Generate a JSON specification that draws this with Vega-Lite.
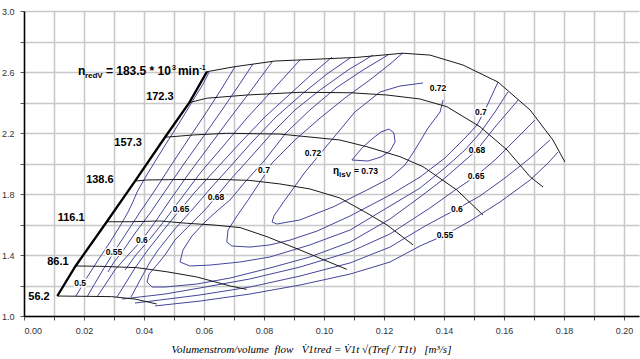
{
 "$schema": "https://vega.github.io/schema/vega-lite/v6.json",
 "width": 615, "height": 305,
 "autosize": {"type": "none"},
 "padding": {"left": 24, "top": 11, "right": 1, "bottom": 43},
 "background": "white",
 "config": {"view": {"stroke": null}},
 "datasets": {
  "lines": [
   {"id":"surge","k":"surge","o":0,"x":0.0111,"y":1.131},{"id":"surge","k":"surge","o":1,"x":0.0172,"y":1.328},{"id":"surge","k":"surge","o":2,"x":0.0276,"y":1.618},{"id":"surge","k":"surge","o":3,"x":0.037,"y":1.885},{"id":"surge","k":"surge","o":4,"x":0.047,"y":2.172},{"id":"surge","k":"surge","o":5,"x":0.0551,"y":2.399},{"id":"surge","k":"surge","o":6,"x":0.061,"y":2.602},
   {"id":"s56","k":"speed","o":0,"x":0.0111,"y":1.131},{"id":"s56","k":"speed","o":1,"x":0.0292,"y":1.127},{"id":"s56","k":"speed","o":2,"x":0.037,"y":1.111},{"id":"s56","k":"speed","o":3,"x":0.0442,"y":1.079},
   {"id":"s86","k":"speed","o":0,"x":0.0172,"y":1.328},{"id":"s86","k":"speed","o":1,"x":0.0253,"y":1.326},{"id":"s86","k":"speed","o":2,"x":0.0376,"y":1.317},{"id":"s86","k":"speed","o":3,"x":0.0476,"y":1.29},{"id":"s86","k":"speed","o":4,"x":0.0576,"y":1.256},{"id":"s86","k":"speed","o":5,"x":0.0687,"y":1.197},{"id":"s86","k":"speed","o":6,"x":0.0742,"y":1.175},
   {"id":"s116","k":"speed","o":0,"x":0.0276,"y":1.618},{"id":"s116","k":"speed","o":1,"x":0.0353,"y":1.618},{"id":"s116","k":"speed","o":2,"x":0.0453,"y":1.623},{"id":"s116","k":"speed","o":3,"x":0.0542,"y":1.608},{"id":"s116","k":"speed","o":4,"x":0.063,"y":1.597},{"id":"s116","k":"speed","o":5,"x":0.072,"y":1.58},{"id":"s116","k":"speed","o":6,"x":0.081,"y":1.52},{"id":"s116","k":"speed","o":7,"x":0.092,"y":1.433},{"id":"s116","k":"speed","o":8,"x":0.1076,"y":1.306},
   {"id":"s139","k":"speed","o":0,"x":0.037,"y":1.885},{"id":"s139","k":"speed","o":1,"x":0.0409,"y":1.892},{"id":"s139","k":"speed","o":2,"x":0.052,"y":1.895},{"id":"s139","k":"speed","o":3,"x":0.0653,"y":1.896},{"id":"s139","k":"speed","o":4,"x":0.0753,"y":1.889},{"id":"s139","k":"speed","o":5,"x":0.0853,"y":1.866},{"id":"s139","k":"speed","o":6,"x":0.0953,"y":1.833},{"id":"s139","k":"speed","o":7,"x":0.1053,"y":1.774},{"id":"s139","k":"speed","o":8,"x":0.1143,"y":1.675},{"id":"s139","k":"speed","o":9,"x":0.121,"y":1.597},{"id":"s139","k":"speed","o":10,"x":0.1297,"y":1.466},
   {"id":"s157","k":"speed","o":0,"x":0.047,"y":2.172},{"id":"s157","k":"speed","o":1,"x":0.0564,"y":2.187},{"id":"s157","k":"speed","o":2,"x":0.0676,"y":2.198},{"id":"s157","k":"speed","o":3,"x":0.0853,"y":2.193},{"id":"s157","k":"speed","o":4,"x":0.1053,"y":2.154},{"id":"s157","k":"speed","o":5,"x":0.1143,"y":2.11},{"id":"s157","k":"speed","o":6,"x":0.1253,"y":2.045},{"id":"s157","k":"speed","o":7,"x":0.133,"y":1.979},{"id":"s157","k":"speed","o":8,"x":0.1443,"y":1.826},{"id":"s157","k":"speed","o":9,"x":0.153,"y":1.662},
   {"id":"s172","k":"speed","o":0,"x":0.0551,"y":2.399},{"id":"s172","k":"speed","o":1,"x":0.0609,"y":2.428},{"id":"s172","k":"speed","o":2,"x":0.0742,"y":2.449},{"id":"s172","k":"speed","o":3,"x":0.092,"y":2.467},{"id":"s172","k":"speed","o":4,"x":0.1087,"y":2.464},{"id":"s172","k":"speed","o":5,"x":0.121,"y":2.449},{"id":"s172","k":"speed","o":6,"x":0.132,"y":2.423},{"id":"s172","k":"speed","o":7,"x":0.141,"y":2.372},{"id":"s172","k":"speed","o":8,"x":0.152,"y":2.241},{"id":"s172","k":"speed","o":9,"x":0.161,"y":2.089},{"id":"s172","k":"speed","o":10,"x":0.1687,"y":1.913},{"id":"s172","k":"speed","o":11,"x":0.173,"y":1.846},
   {"id":"s184","k":"speed","o":0,"x":0.061,"y":2.602},{"id":"s184","k":"speed","o":1,"x":0.0703,"y":2.635},{"id":"s184","k":"speed","o":2,"x":0.0837,"y":2.672},{"id":"s184","k":"speed","o":3,"x":0.0987,"y":2.685},{"id":"s184","k":"speed","o":4,"x":0.111,"y":2.696},{"id":"s184","k":"speed","o":5,"x":0.1263,"y":2.723},{"id":"s184","k":"speed","o":6,"x":0.1353,"y":2.711},{"id":"s184","k":"speed","o":7,"x":0.1463,"y":2.646},{"id":"s184","k":"speed","o":8,"x":0.158,"y":2.534},{"id":"s184","k":"speed","o":9,"x":0.1687,"y":2.351},{"id":"s184","k":"speed","o":10,"x":0.1763,"y":2.154},{"id":"s184","k":"speed","o":11,"x":0.1803,"y":2.01},
   {"id":"e72","k":"eta","o":0,"x":0.133,"y":2.528},{"id":"e72","k":"eta","o":1,"x":0.1253,"y":2.508},{"id":"e72","k":"eta","o":2,"x":0.1187,"y":2.469},{"id":"e72","k":"eta","o":3,"x":0.1103,"y":2.338},{"id":"e72","k":"eta","o":4,"x":0.102,"y":2.141},{"id":"e72","k":"eta","o":5,"x":0.0937,"y":1.944},{"id":"e72","k":"eta","o":6,"x":0.087,"y":1.761},{"id":"e72","k":"eta","o":7,"x":0.0833,"y":1.656},{"id":"e72","k":"eta","o":8,"x":0.0827,"y":1.616},{"id":"e72","k":"eta","o":9,"x":0.0843,"y":1.603},{"id":"e72","k":"eta","o":10,"x":0.092,"y":1.63},{"id":"e72","k":"eta","o":11,"x":0.103,"y":1.715},{"id":"e72","k":"eta","o":12,"x":0.1143,"y":1.826},{"id":"e72","k":"eta","o":13,"x":0.122,"y":1.905},{"id":"e72","k":"eta","o":14,"x":0.127,"y":1.99},{"id":"e72","k":"eta","o":15,"x":0.1303,"y":2.089},{"id":"e72","k":"eta","o":16,"x":0.1347,"y":2.233},{"id":"e72","k":"eta","o":17,"x":0.1387,"y":2.338},{"id":"e72","k":"eta","o":18,"x":0.1397,"y":2.416},
   {"id":"e73","k":"eta","o":0,"x":0.1093,"y":2.023},{"id":"e73","k":"eta","o":1,"x":0.1127,"y":2.102},{"id":"e73","k":"eta","o":2,"x":0.116,"y":2.161},{"id":"e73","k":"eta","o":3,"x":0.119,"y":2.207},{"id":"e73","k":"eta","o":4,"x":0.1217,"y":2.226},{"id":"e73","k":"eta","o":5,"x":0.1233,"y":2.2},{"id":"e73","k":"eta","o":6,"x":0.1237,"y":2.141},{"id":"e73","k":"eta","o":7,"x":0.122,"y":2.082},{"id":"e73","k":"eta","o":8,"x":0.119,"y":2.043},{"id":"e73","k":"eta","o":9,"x":0.1147,"y":2.016},{"id":"e73","k":"eta","o":10,"x":0.1093,"y":2.023},
   {"id":"e70u","k":"eta","o":0,"x":0.0676,"y":1.485},{"id":"e70u","k":"eta","o":1,"x":0.068,"y":1.564},{"id":"e70u","k":"eta","o":2,"x":0.071,"y":1.656},{"id":"e70u","k":"eta","o":3,"x":0.0747,"y":1.761},{"id":"e70u","k":"eta","o":4,"x":0.078,"y":1.859},{"id":"e70u","k":"eta","o":5,"x":0.08,"y":1.918},{"id":"e70u","k":"eta","o":6,"x":0.0827,"y":2.003},{"id":"e70u","k":"eta","o":7,"x":0.0903,"y":2.154},{"id":"e70u","k":"eta","o":8,"x":0.0987,"y":2.298},{"id":"e70u","k":"eta","o":9,"x":0.107,"y":2.43},{"id":"e70u","k":"eta","o":10,"x":0.1153,"y":2.548},{"id":"e70u","k":"eta","o":11,"x":0.122,"y":2.652},{"id":"e70u","k":"eta","o":12,"x":0.1263,"y":2.725},
   {"id":"e70l","k":"eta","o":0,"x":0.0676,"y":1.485},{"id":"e70l","k":"eta","o":1,"x":0.0693,"y":1.459},{"id":"e70l","k":"eta","o":2,"x":0.0753,"y":1.452},{"id":"e70l","k":"eta","o":3,"x":0.082,"y":1.466},{"id":"e70l","k":"eta","o":4,"x":0.0887,"y":1.498},{"id":"e70l","k":"eta","o":5,"x":0.0977,"y":1.557},{"id":"e70l","k":"eta","o":6,"x":0.1087,"y":1.656},{"id":"e70l","k":"eta","o":7,"x":0.122,"y":1.793},{"id":"e70l","k":"eta","o":8,"x":0.132,"y":1.911},{"id":"e70l","k":"eta","o":9,"x":0.1403,"y":2.036},{"id":"e70l","k":"eta","o":10,"x":0.147,"y":2.167},{"id":"e70l","k":"eta","o":11,"x":0.151,"y":2.252},{"id":"e70l","k":"eta","o":12,"x":0.154,"y":2.364},{"id":"e70l","k":"eta","o":13,"x":0.156,"y":2.449},{"id":"e70l","k":"eta","o":14,"x":0.158,"y":2.534},
   {"id":"e69u","k":"eta","o":0,"x":0.052,"y":1.354},{"id":"e69u","k":"eta","o":1,"x":0.053,"y":1.433},{"id":"e69u","k":"eta","o":2,"x":0.056,"y":1.525},{"id":"e69u","k":"eta","o":3,"x":0.0603,"y":1.616},{"id":"e69u","k":"eta","o":4,"x":0.0647,"y":1.695},{"id":"e69u","k":"eta","o":5,"x":0.0687,"y":1.761},{"id":"e69u","k":"eta","o":6,"x":0.0737,"y":1.879},{"id":"e69u","k":"eta","o":7,"x":0.0803,"y":2.023},{"id":"e69u","k":"eta","o":8,"x":0.0873,"y":2.2},{"id":"e69u","k":"eta","o":9,"x":0.0953,"y":2.351},{"id":"e69u","k":"eta","o":10,"x":0.104,"y":2.495},{"id":"e69u","k":"eta","o":11,"x":0.113,"y":2.613},{"id":"e69u","k":"eta","o":12,"x":0.1213,"y":2.711},
   {"id":"e69l","k":"eta","o":0,"x":0.052,"y":1.354},{"id":"e69l","k":"eta","o":1,"x":0.0553,"y":1.328},{"id":"e69l","k":"eta","o":2,"x":0.062,"y":1.334},{"id":"e69l","k":"eta","o":3,"x":0.072,"y":1.354},{"id":"e69l","k":"eta","o":4,"x":0.082,"y":1.387},{"id":"e69l","k":"eta","o":5,"x":0.0953,"y":1.466},{"id":"e69l","k":"eta","o":6,"x":0.1087,"y":1.564},{"id":"e69l","k":"eta","o":7,"x":0.122,"y":1.721},{"id":"e69l","k":"eta","o":8,"x":0.132,"y":1.839},{"id":"e69l","k":"eta","o":9,"x":0.1403,"y":1.971},{"id":"e69l","k":"eta","o":10,"x":0.147,"y":2.089},{"id":"e69l","k":"eta","o":11,"x":0.152,"y":2.2},{"id":"e69l","k":"eta","o":12,"x":0.157,"y":2.338},{"id":"e69l","k":"eta","o":13,"x":0.1613,"y":2.469},
   {"id":"e68u","k":"eta","o":0,"x":0.041,"y":1.223},{"id":"e68u","k":"eta","o":1,"x":0.0417,"y":1.275},{"id":"e68u","k":"eta","o":2,"x":0.044,"y":1.328},{"id":"e68u","k":"eta","o":3,"x":0.047,"y":1.4},{"id":"e68u","k":"eta","o":4,"x":0.0503,"y":1.498},{"id":"e68u","k":"eta","o":5,"x":0.0553,"y":1.597},{"id":"e68u","k":"eta","o":6,"x":0.0603,"y":1.695},{"id":"e68u","k":"eta","o":7,"x":0.064,"y":1.78},{"id":"e68u","k":"eta","o":8,"x":0.0687,"y":1.892},{"id":"e68u","k":"eta","o":9,"x":0.0753,"y":2.036},{"id":"e68u","k":"eta","o":10,"x":0.0827,"y":2.2},{"id":"e68u","k":"eta","o":11,"x":0.0903,"y":2.351},{"id":"e68u","k":"eta","o":12,"x":0.0987,"y":2.482},{"id":"e68u","k":"eta","o":13,"x":0.108,"y":2.613},{"id":"e68u","k":"eta","o":14,"x":0.1163,"y":2.711},
   {"id":"e68l","k":"eta","o":0,"x":0.041,"y":1.223},{"id":"e68l","k":"eta","o":1,"x":0.0427,"y":1.19},{"id":"e68l","k":"eta","o":2,"x":0.047,"y":1.19},{"id":"e68l","k":"eta","o":3,"x":0.0577,"y":1.21},{"id":"e68l","k":"eta","o":4,"x":0.0687,"y":1.249},{"id":"e68l","k":"eta","o":5,"x":0.082,"y":1.315},{"id":"e68l","k":"eta","o":6,"x":0.0953,"y":1.387},{"id":"e68l","k":"eta","o":7,"x":0.1087,"y":1.485},{"id":"e68l","k":"eta","o":8,"x":0.122,"y":1.636},{"id":"e68l","k":"eta","o":9,"x":0.132,"y":1.78},{"id":"e68l","k":"eta","o":10,"x":0.1403,"y":1.905},{"id":"e68l","k":"eta","o":11,"x":0.146,"y":2.003},{"id":"e68l","k":"eta","o":12,"x":0.151,"y":2.089},{"id":"e68l","k":"eta","o":13,"x":0.157,"y":2.239},{"id":"e68l","k":"eta","o":14,"x":0.1647,"y":2.416},
   {"id":"e66u","k":"eta","o":0,"x":0.0357,"y":1.125},{"id":"e66u","k":"eta","o":1,"x":0.0387,"y":1.236},{"id":"e66u","k":"eta","o":2,"x":0.042,"y":1.354},{"id":"e66u","k":"eta","o":3,"x":0.0447,"y":1.433},{"id":"e66u","k":"eta","o":4,"x":0.0503,"y":1.571},{"id":"e66u","k":"eta","o":5,"x":0.0563,"y":1.702},{"id":"e66u","k":"eta","o":6,"x":0.062,"y":1.833},{"id":"e66u","k":"eta","o":7,"x":0.0677,"y":1.957},{"id":"e66u","k":"eta","o":8,"x":0.0757,"y":2.134},{"id":"e66u","k":"eta","o":9,"x":0.084,"y":2.305},{"id":"e66u","k":"eta","o":10,"x":0.0927,"y":2.456},{"id":"e66u","k":"eta","o":11,"x":0.101,"y":2.587},{"id":"e66u","k":"eta","o":12,"x":0.1087,"y":2.692},
   {"id":"e65u","k":"eta","o":0,"x":0.031,"y":1.125},{"id":"e65u","k":"eta","o":1,"x":0.0337,"y":1.21},{"id":"e65u","k":"eta","o":2,"x":0.037,"y":1.315},{"id":"e65u","k":"eta","o":3,"x":0.0413,"y":1.433},{"id":"e65u","k":"eta","o":4,"x":0.046,"y":1.551},{"id":"e65u","k":"eta","o":5,"x":0.0503,"y":1.656},{"id":"e65u","k":"eta","o":6,"x":0.0523,"y":1.702},{"id":"e65u","k":"eta","o":7,"x":0.057,"y":1.813},{"id":"e65u","k":"eta","o":8,"x":0.0637,"y":1.957},{"id":"e65u","k":"eta","o":9,"x":0.072,"y":2.134},{"id":"e65u","k":"eta","o":10,"x":0.0803,"y":2.305},{"id":"e65u","k":"eta","o":11,"x":0.0887,"y":2.456},{"id":"e65u","k":"eta","o":12,"x":0.096,"y":2.587},{"id":"e65u","k":"eta","o":13,"x":0.1027,"y":2.698},
   {"id":"e65l","k":"eta","o":0,"x":0.0327,"y":1.111},{"id":"e65l","k":"eta","o":1,"x":0.0387,"y":1.125},{"id":"e65l","k":"eta","o":2,"x":0.047,"y":1.144},{"id":"e65l","k":"eta","o":3,"x":0.0587,"y":1.184},{"id":"e65l","k":"eta","o":4,"x":0.0753,"y":1.243},{"id":"e65l","k":"eta","o":5,"x":0.092,"y":1.321},{"id":"e65l","k":"eta","o":6,"x":0.1087,"y":1.42},{"id":"e65l","k":"eta","o":7,"x":0.122,"y":1.538},{"id":"e65l","k":"eta","o":8,"x":0.1353,"y":1.708},{"id":"e65l","k":"eta","o":9,"x":0.1437,"y":1.826},{"id":"e65l","k":"eta","o":10,"x":0.1507,"y":1.918},{"id":"e65l","k":"eta","o":11,"x":0.157,"y":2.023},{"id":"e65l","k":"eta","o":12,"x":0.1637,"y":2.154},{"id":"e65l","k":"eta","o":13,"x":0.1703,"y":2.285},
   {"id":"e62u","k":"eta","o":0,"x":0.0337,"y":1.302},{"id":"e62u","k":"eta","o":1,"x":0.0373,"y":1.4},{"id":"e62u","k":"eta","o":2,"x":0.0417,"y":1.498},{"id":"e62u","k":"eta","o":3,"x":0.047,"y":1.63},{"id":"e62u","k":"eta","o":4,"x":0.052,"y":1.761},{"id":"e62u","k":"eta","o":5,"x":0.059,"y":1.944},{"id":"e62u","k":"eta","o":6,"x":0.0667,"y":2.121},{"id":"e62u","k":"eta","o":7,"x":0.0743,"y":2.298},{"id":"e62u","k":"eta","o":8,"x":0.0823,"y":2.469},{"id":"e62u","k":"eta","o":9,"x":0.092,"y":2.679},
   {"id":"e60u","k":"eta","o":0,"x":0.0243,"y":1.125},{"id":"e60u","k":"eta","o":1,"x":0.027,"y":1.203},{"id":"e60u","k":"eta","o":2,"x":0.0303,"y":1.302},{"id":"e60u","k":"eta","o":3,"x":0.0347,"y":1.4},{"id":"e60u","k":"eta","o":4,"x":0.0393,"y":1.498},{"id":"e60u","k":"eta","o":5,"x":0.0437,"y":1.616},{"id":"e60u","k":"eta","o":6,"x":0.0487,"y":1.761},{"id":"e60u","k":"eta","o":7,"x":0.0553,"y":1.944},{"id":"e60u","k":"eta","o":8,"x":0.062,"y":2.121},{"id":"e60u","k":"eta","o":9,"x":0.0687,"y":2.298},{"id":"e60u","k":"eta","o":10,"x":0.0753,"y":2.469},{"id":"e60u","k":"eta","o":11,"x":0.0827,"y":2.666},
   {"id":"e60l","k":"eta","o":0,"x":0.037,"y":1.085},{"id":"e60l","k":"eta","o":1,"x":0.0453,"y":1.105},{"id":"e60l","k":"eta","o":2,"x":0.0587,"y":1.138},{"id":"e60l","k":"eta","o":3,"x":0.0753,"y":1.19},{"id":"e60l","k":"eta","o":4,"x":0.092,"y":1.262},{"id":"e60l","k":"eta","o":5,"x":0.1087,"y":1.348},{"id":"e60l","k":"eta","o":6,"x":0.122,"y":1.452},{"id":"e60l","k":"eta","o":7,"x":0.1337,"y":1.59},{"id":"e60l","k":"eta","o":8,"x":0.1443,"y":1.702},{"id":"e60l","k":"eta","o":9,"x":0.152,"y":1.787},{"id":"e60l","k":"eta","o":10,"x":0.1603,"y":1.905},{"id":"e60l","k":"eta","o":11,"x":0.1687,"y":2.036},{"id":"e60l","k":"eta","o":12,"x":0.1753,"y":2.154},
   {"id":"e57u","k":"eta","o":0,"x":0.028,"y":1.289},{"id":"e57u","k":"eta","o":1,"x":0.03,"y":1.354},{"id":"e57u","k":"eta","o":2,"x":0.0327,"y":1.42},{"id":"e57u","k":"eta","o":3,"x":0.0373,"y":1.551},{"id":"e57u","k":"eta","o":4,"x":0.0423,"y":1.682},{"id":"e57u","k":"eta","o":5,"x":0.0473,"y":1.826},{"id":"e57u","k":"eta","o":6,"x":0.0533,"y":1.997},{"id":"e57u","k":"eta","o":7,"x":0.0597,"y":2.174},{"id":"e57u","k":"eta","o":8,"x":0.066,"y":2.351},{"id":"e57u","k":"eta","o":9,"x":0.071,"y":2.495},{"id":"e57u","k":"eta","o":10,"x":0.0763,"y":2.652},
   {"id":"e55u","k":"eta","o":0,"x":0.021,"y":1.125},{"id":"e55u","k":"eta","o":1,"x":0.0237,"y":1.216},{"id":"e55u","k":"eta","o":2,"x":0.0267,"y":1.315},{"id":"e55u","k":"eta","o":3,"x":0.03,"y":1.42},{"id":"e55u","k":"eta","o":4,"x":0.0337,"y":1.531},{"id":"e55u","k":"eta","o":5,"x":0.0387,"y":1.682},{"id":"e55u","k":"eta","o":6,"x":0.0437,"y":1.826},{"id":"e55u","k":"eta","o":7,"x":0.0493,"y":1.997},{"id":"e55u","k":"eta","o":8,"x":0.0553,"y":2.174},{"id":"e55u","k":"eta","o":9,"x":0.0613,"y":2.351},{"id":"e55u","k":"eta","o":10,"x":0.066,"y":2.495},{"id":"e55u","k":"eta","o":11,"x":0.0703,"y":2.633},
   {"id":"e55l","k":"eta","o":0,"x":0.0437,"y":1.066},{"id":"e55l","k":"eta","o":1,"x":0.0587,"y":1.098},{"id":"e55l","k":"eta","o":2,"x":0.0753,"y":1.144},{"id":"e55l","k":"eta","o":3,"x":0.092,"y":1.203},{"id":"e55l","k":"eta","o":4,"x":0.1087,"y":1.275},{"id":"e55l","k":"eta","o":5,"x":0.122,"y":1.354},{"id":"e55l","k":"eta","o":6,"x":0.132,"y":1.459},{"id":"e55l","k":"eta","o":7,"x":0.1403,"y":1.531},{"id":"e55l","k":"eta","o":8,"x":0.1487,"y":1.623},{"id":"e55l","k":"eta","o":9,"x":0.1587,"y":1.748},{"id":"e55l","k":"eta","o":10,"x":0.1687,"y":1.892},{"id":"e55l","k":"eta","o":11,"x":0.1747,"y":2.003},{"id":"e55l","k":"eta","o":12,"x":0.178,"y":2.075},
   {"id":"e50u","k":"eta","o":0,"x":0.0173,"y":1.131},{"id":"e50u","k":"eta","o":1,"x":0.0187,"y":1.177},{"id":"e50u","k":"eta","o":2,"x":0.0213,"y":1.262},{"id":"e50u","k":"eta","o":3,"x":0.0247,"y":1.367},{"id":"e50u","k":"eta","o":4,"x":0.0287,"y":1.485},{"id":"e50u","k":"eta","o":5,"x":0.032,"y":1.59},{"id":"e50u","k":"eta","o":6,"x":0.0347,"y":1.682},{"id":"e50u","k":"eta","o":7,"x":0.0363,"y":1.748},{"id":"e50u","k":"eta","o":8,"x":0.0377,"y":1.813},{"id":"e50u","k":"eta","o":9,"x":0.0407,"y":1.918},{"id":"e50u","k":"eta","o":10,"x":0.044,"y":2.023},{"id":"e50u","k":"eta","o":11,"x":0.0473,"y":2.128},{"id":"e50u","k":"eta","o":12,"x":0.0507,"y":2.233},{"id":"e50u","k":"eta","o":13,"x":0.054,"y":2.338},{"id":"e50u","k":"eta","o":14,"x":0.057,"y":2.436},{"id":"e50u","k":"eta","o":15,"x":0.0597,"y":2.521},{"id":"e50u","k":"eta","o":16,"x":0.0617,"y":2.6}
  ],
  "labels": [
   {"g":"spd","t":"56.2","x":0.005,"y":1.125},
   {"g":"spd","t":"86.1","x":0.0113,"y":1.354},
   {"g":"spd","t":"116.1","x":0.0157,"y":1.643},
   {"g":"spd","t":"138.6","x":0.0253,"y":1.892},
   {"g":"spd","t":"157.3","x":0.0347,"y":2.134},
   {"g":"spd","t":"172.3","x":0.0453,"y":2.436},
   {"g":"eff","t":"0.5","x":0.0187,"y":1.216},
   {"g":"eff","t":"0.55","x":0.03,"y":1.42},
   {"g":"eff","t":"0.6","x":0.0393,"y":1.498},
   {"g":"eff","t":"0.65","x":0.0523,"y":1.702},
   {"g":"eff","t":"0.68","x":0.064,"y":1.78},
   {"g":"eff","t":"0.7","x":0.08,"y":1.957},
   {"g":"eff","t":"0.72","x":0.0963,"y":2.069},
   {"g":"eff","t":"0.72","x":0.138,"y":2.495},
   {"g":"eff","t":"0.7","x":0.1523,"y":2.338},
   {"g":"eff","t":"0.68","x":0.151,"y":2.089},
   {"g":"eff","t":"0.65","x":0.1507,"y":1.918},
   {"g":"eff","t":"0.6","x":0.1443,"y":1.702},
   {"g":"eff","t":"0.55","x":0.1403,"y":1.531},
   {"g":"f12","t":"n","x":0.018,"y":2.58},
   {"g":"f12","t":"= 183.5 * 10","x":0.0273,"y":2.58},
   {"g":"f12","t":"min","x":0.0513,"y":2.58},
   {"g":"f8","t":"redV","x":0.0203,"y":2.561},
   {"g":"f7","t":"3","x":0.0493,"y":2.613},
   {"g":"f7","t":"-1","x":0.0585,"y":2.613},
   {"g":"f10","t":"η","x":0.103,"y":1.931},
   {"g":"f8","t":"isV","x":0.105,"y":1.911},
   {"g":"f85","t":"= 0.73","x":0.11,"y":1.931}
  ]
 },
 "encoding": {
  "x": {"field": "x", "type": "quantitative",
   "scale": {"domain": [0, 0.205], "nice": false, "zero": false},
   "axis": {"values": [0,0.01,0.02,0.03,0.04,0.05,0.06,0.07,0.08,0.09,0.1,0.11,0.12,0.13,0.14,0.15,0.16,0.17,0.18,0.19,0.2],
    "labelExpr": "round(datum.value*100) % 2 == 0 ? format(datum.value, '.2f') : ''",
    "grid": true, "gridColor": "#c8c8c8", "gridWidth": 1.5,
    "domainColor": "#000", "domainWidth": 1.5, "tickColor": "#555", "tickSize": 4,
    "labelFont": "Liberation Sans", "labelFontSize": 9, "labelColor": "#333", "labelPadding": 6,
    "title": "Volumenstrom/volume\u00a0\u00a0flow\u00a0\u00a0\u00a0V̇1tred\u00a0=\u00a0V̇1t\u00a0√(Tref\u00a0/\u00a0T1t)\u00a0\u00a0\u00a0[m³/s]",
    "titleFont": "Liberation Serif", "titleFontStyle": "italic", "titleFontWeight": "normal", "titleFontSize": 11, "titleColor": "#000",
    "titleX": 287, "titleY": 36, "titleAlign": "center", "titleBaseline": "alphabetic"}},
  "y": {"field": "y", "type": "quantitative",
   "scale": {"domain": [1, 3], "nice": false, "zero": false},
   "axis": {"values": [1,1.2,1.4,1.6,1.8,2,2.2,2.4,2.6,2.8,3],
    "labelExpr": "abs((datum.value-1)/0.4 - round((datum.value-1)/0.4)) < 0.01 ? format(datum.value, '.1f') : ''",
    "grid": true, "gridColor": "#c8c8c8", "gridWidth": 1.5,
    "domainColor": "#000", "domainWidth": 1.5, "tickColor": "#555", "tickSize": 4,
    "labelFont": "Liberation Sans", "labelFontSize": 9, "labelColor": "#333", "labelPadding": 6,
    "title": null}}
 },
 "layer": [
  {"data": {"name": "lines"}, "transform": [{"filter": "datum.k == 'eta'"}],
   "mark": {"type": "line", "color": "#45459c", "strokeWidth": 1},
   "encoding": {"detail": {"field": "id"}, "order": {"field": "o", "type": "quantitative"}}},
  {"data": {"name": "lines"}, "transform": [{"filter": "datum.k == 'speed'"}],
   "mark": {"type": "line", "color": "#1a1a1a", "strokeWidth": 1},
   "encoding": {"detail": {"field": "id"}, "order": {"field": "o", "type": "quantitative"}}},
  {"data": {"name": "lines"}, "transform": [{"filter": "datum.k == 'surge'"}],
   "mark": {"type": "line", "color": "#000", "strokeWidth": 2.3},
   "encoding": {"order": {"field": "o", "type": "quantitative"}}},
  {"data": {"name": "labels"}, "transform": [{"filter": "datum.g == 'spd'"}],
   "mark": {"type": "text", "font": "Liberation Sans", "fontWeight": "bold", "fontSize": 11, "align": "center", "baseline": "middle", "color": "#000"},
   "encoding": {"text": {"field": "t"}}},
  {"data": {"name": "labels"}, "transform": [{"filter": "datum.g == 'eff'"}],
   "mark": {"type": "text", "font": "Liberation Sans", "fontWeight": "bold", "fontSize": 8.5, "align": "center", "baseline": "middle", "color": "#fff", "stroke": "#fff", "strokeWidth": 3},
   "encoding": {"text": {"field": "t"}}},
  {"data": {"name": "labels"}, "transform": [{"filter": "datum.g == 'eff'"}],
   "mark": {"type": "text", "font": "Liberation Sans", "fontWeight": "bold", "fontSize": 8.5, "align": "center", "baseline": "middle", "color": "#000"},
   "encoding": {"text": {"field": "t"}}},
  {"data": {"name": "labels"}, "transform": [{"filter": "datum.g == 'f12'"}],
   "mark": {"type": "text", "font": "Liberation Sans", "fontWeight": "bold", "fontSize": 12, "align": "left", "baseline": "alphabetic", "color": "#000"},
   "encoding": {"text": {"field": "t"}}},
  {"data": {"name": "labels"}, "transform": [{"filter": "datum.g == 'f8'"}],
   "mark": {"type": "text", "font": "Liberation Sans", "fontWeight": "bold", "fontSize": 8, "align": "left", "baseline": "alphabetic", "color": "#000"},
   "encoding": {"text": {"field": "t"}}},
  {"data": {"name": "labels"}, "transform": [{"filter": "datum.g == 'f7'"}],
   "mark": {"type": "text", "font": "Liberation Sans", "fontWeight": "bold", "fontSize": 7, "align": "left", "baseline": "alphabetic", "color": "#000"},
   "encoding": {"text": {"field": "t"}}},
  {"data": {"name": "labels"}, "transform": [{"filter": "datum.g == 'f10'"}],
   "mark": {"type": "text", "font": "Liberation Sans", "fontWeight": "bold", "fontSize": 10, "align": "left", "baseline": "alphabetic", "color": "#000"},
   "encoding": {"text": {"field": "t"}}},
  {"data": {"name": "labels"}, "transform": [{"filter": "datum.g == 'f85'"}],
   "mark": {"type": "text", "font": "Liberation Sans", "fontWeight": "bold", "fontSize": 8.5, "align": "left", "baseline": "alphabetic", "color": "#000"},
   "encoding": {"text": {"field": "t"}}}
 ]
}
